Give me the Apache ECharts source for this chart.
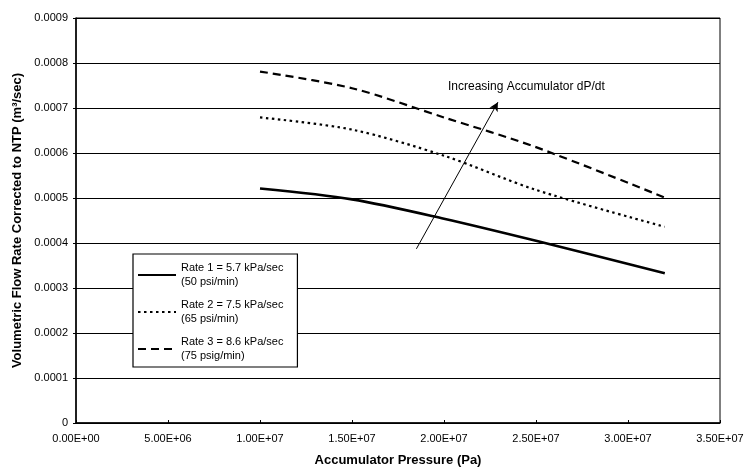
<!DOCTYPE html>
<html>
<head>
<meta charset="utf-8">
<script src="https://cdn.jsdelivr.net/npm/echarts@6/dist/echarts.min.js"></script>
<style>
html,body{margin:0;padding:0;background:#fff;}
#chart{width:749px;height:472px;}
</style>
</head>
<body>
<div id="chart"></div>
<script>
// Data
const pressure = [1.0e7, 1.5e7, 2.0e7, 2.5e7, 3.2e7];
const rate1 = [0.000521, 0.000497, 0.000454, 0.000405, 0.000333];
const rate2 = [0.000679, 0.000652, 0.000594, 0.000518, 0.000436];
const rate3 = [0.000781, 0.000744, 0.000679, 0.000613, 0.000501];
const seriesNames = [
  'Rate 1 = 5.7 kPa/sec\n(50 psi/min)',
  'Rate 2 = 7.5 kPa/sec\n(65 psi/min)',
  'Rate 3 = 8.6 kPa/sec\n(75 psig/min)'
];
const arrowStart = [1.85e7, 0.000387];
const arrowEnd = [2.293e7, 0.000713];
const annotation = 'Increasing Accumulator dP/dt';
const xTitle = 'Accumulator Pressure (Pa)';
const yTitle = 'Volumetric Flow Rate Corrected to NTP (m\u00B3/sec)';

function sci(v) {
  if (v === 0) return '0.00E+00';
  const e = Math.floor(Math.log10(Math.abs(v)) + 1e-9);
  const m = v / Math.pow(10, e);
  return m.toFixed(2) + 'E' + (e >= 0 ? '+' : '-') + String(Math.abs(e)).padStart(2, '0');
}
const zip = (xs, ys) => xs.map((x, i) => [x, ys[i]]);

const font = 'Liberation Sans, Arial, sans-serif';
const chart = echarts.init(document.getElementById('chart'), null, {renderer: 'canvas'});
chart.setOption({
  backgroundColor: '#fff',
  animation: false,
  grid: {left: 76, right: 29, top: 18, bottom: 47, show: true, borderColor: '#000', borderWidth: 1},
  xAxis: {
    type: 'value', min: 0, max: 3.5e7, interval: 5e6,
    name: xTitle, nameLocation: 'middle', nameGap: 31,
    nameTextStyle: {fontFamily: font, fontWeight: 'bold', fontSize: 13, color: '#000'},
    axisLine: {lineStyle: {color: '#000', width: 1.5}},
    axisTick: {show: true, inside: true, length: 3, lineStyle: {color: '#000'}},
    splitLine: {show: false},
    axisLabel: {formatter: sci, fontFamily: font, fontSize: 11, color: '#000', margin: 10}
  },
  yAxis: {
    type: 'value', min: 0, max: 0.0009, interval: 0.0001,
    name: yTitle, nameLocation: 'middle', nameGap: 52,
    nameTextStyle: {fontFamily: font, fontWeight: 'bold', fontSize: 13, color: '#000'},
    axisLine: {show: true, lineStyle: {color: '#000', width: 1.5}},
    axisTick: {show: true, length: 3, lineStyle: {color: '#000'}},
    splitLine: {show: true, lineStyle: {color: '#000', width: 1.2}},
    axisLabel: {formatter: v => v === 0 ? '0' : v.toFixed(4), fontFamily: font, fontSize: 11, color: '#000', margin: 8}
  },
  legend: {
    orient: 'vertical', left: 133, top: 254,
    padding: [7, 14, 4, 4],
    itemGap: 9, itemWidth: 38, itemHeight: 14,
    backgroundColor: '#fff', borderColor: '#000', borderWidth: 1.2,
    itemStyle: {opacity: 0},
    textStyle: {fontFamily: font, fontSize: 11, color: '#000', lineHeight: 14},
    data: seriesNames
  },
  series: [
    {
      name: seriesNames[0], type: 'line', data: zip(pressure, rate1), smooth: 0.3,
      showSymbol: false, symbol: 'none',
      lineStyle: {color: '#000', width: 2.6, type: 'solid'}, itemStyle: {color: '#000'},
      markLine: {
        silent: true, symbol: ['none', 'arrow'], symbolSize: [7, 9],
        lineStyle: {color: '#000', width: 1, type: 'solid'},
        label: {show: false},
        data: [[{coord: arrowStart}, {coord: arrowEnd}]]
      }
    },
    {
      name: seriesNames[1], type: 'line', data: zip(pressure, rate2), smooth: 0.3,
      showSymbol: false, symbol: 'none',
      lineStyle: {color: '#000', width: 2.2, type: [2.5, 3.5]}, itemStyle: {color: '#000'}
    },
    {
      name: seriesNames[2], type: 'line', data: zip(pressure, rate3), smooth: 0.3,
      showSymbol: false, symbol: 'none',
      lineStyle: {color: '#000', width: 2.2, type: [8, 5]}, itemStyle: {color: '#000'}
    }
  ],
  graphic: [{
    type: 'text', left: 448, top: 81,
    style: {text: annotation, font: '12px ' + font, fill: '#000'}
  }]
});
</script>
</body>
</html>
